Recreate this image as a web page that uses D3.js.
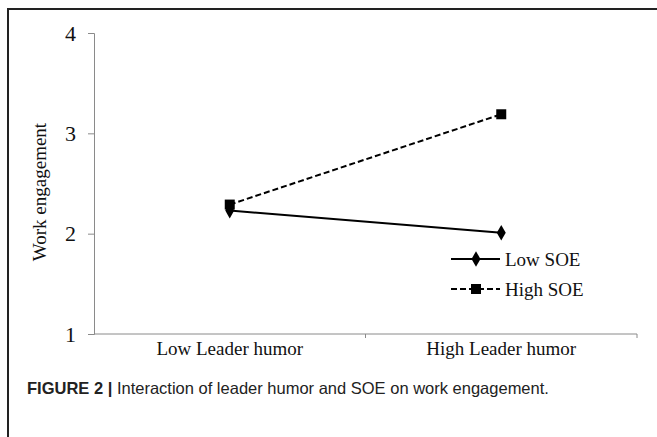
<!DOCTYPE html>
<html>
<head>
<meta charset="utf-8">
<script src="https://cdn.jsdelivr.net/npm/d3@7"></script>
<style>
  body { margin: 0; background: #fff; }
  svg { display: block; }
</style>
</head>
<body>
<script>
// data
var categories = ["Low Leader humor", "High Leader humor"];
var seriesNames = ["Low SOE", "High SOE"];
var lowSOE = [2.23, 2.01];
var highSOE = [2.29, 3.19];
var yTicks = [1, 2, 3, 4];
var caption = "Interaction of leader humor and SOE on work engagement.";

var width = 657, height = 437;
var serif = "Liberation Serif, Times New Roman, serif";

var svg = d3.select("body").append("svg")
    .attr("width", width)
    .attr("height", height);

// frame (top + left edge of the panel)
svg.append("path")
    .attr("d", "M8,440 V9 H660")
    .attr("fill", "none")
    .attr("stroke", "#222")
    .attr("stroke-width", 2);

var x = d3.scaleBand().domain(categories).range([94, 637]);
var y = d3.scaleLinear().domain([1, 4]).range([334, 33]);

var axisCol = "#8a8a8a";

// y axis
var yaxis = svg.append("g")
    .attr("transform", "translate(94,0)")
    .call(d3.axisLeft(y).tickValues(yTicks).tickSize(6).tickPadding(12).tickFormat(d3.format("d")));
yaxis.select(".domain").attr("stroke", axisCol);
yaxis.selectAll(".tick line").attr("stroke", axisCol);
yaxis.selectAll("text")
    .attr("font-family", serif)
    .attr("font-size", 22)
    .attr("fill", "#111");

// x axis, ticks at the band edges
var edges = x.domain().map(d => x(d)).concat([x.range()[1]]);
var xaxis = svg.append("g").attr("transform", "translate(0,334)");
xaxis.append("line")
    .attr("x1", x.range()[0]).attr("x2", x.range()[1])
    .attr("stroke", axisCol);
xaxis.selectAll(".edge").data(edges.slice(1)).enter().append("line")
    .attr("x1", d => d).attr("x2", d => d)
    .attr("y1", 0).attr("y2", 4)
    .attr("stroke", axisCol);
xaxis.selectAll(".lab").data(categories).enter().append("text")
    .attr("x", d => x(d) + x.bandwidth() / 2)
    .attr("y", 21)
    .attr("text-anchor", "middle")
    .attr("font-family", serif)
    .attr("font-size", 19)
    .attr("fill", "#111")
    .text(d => d);

// y title
svg.append("text")
    .attr("transform", "translate(46,192) rotate(-90)")
    .attr("text-anchor", "middle")
    .attr("font-family", serif)
    .attr("font-size", 19)
    .attr("fill", "#111")
    .text("Work engagement");

var series = [
  { name: seriesNames[0], values: lowSOE, dash: null, sym: d3.symbolDiamond, size: 70 },
  { name: seriesNames[1], values: highSOE, dash: "6,3", sym: d3.symbolSquare, size: 100 }
];

var line = d3.line()
    .x((d, i) => x(categories[i]) + x.bandwidth() / 2)
    .y(d => y(d));

series.forEach(s => {
  svg.append("path")
      .attr("d", line(s.values))
      .attr("fill", "none")
      .attr("stroke", "#000")
      .attr("stroke-width", 2)
      .attr("stroke-dasharray", s.dash);
});
// markers after lines so they sit on top
series.forEach(s => {
  svg.selectAll(null).data(s.values).enter().append("path")
      .attr("d", d3.symbol().type(s.sym).size(s.size))
      .attr("transform", (d, i) => "translate(" + (x(categories[i]) + x.bandwidth() / 2) + "," + y(d) + ")")
      .attr("fill", "#000");
});

// legend
var lg = svg.append("g").attr("transform", "translate(451,259)");
series.forEach((s, i) => {
  var g = lg.append("g").attr("transform", "translate(0," + (i * 30) + ")");
  g.append("line")
      .attr("x1", 0).attr("x2", 49)
      .attr("stroke", "#000").attr("stroke-width", 2)
      .attr("stroke-dasharray", s.dash);
  g.append("path")
      .attr("d", d3.symbol().type(s.sym).size(s.size))
      .attr("transform", "translate(25,0)");
  g.append("text")
      .attr("x", 54).attr("y", 6.5)
      .attr("font-family", serif)
      .attr("font-size", 19)
      .attr("fill", "#111")
      .text(s.name);
});

// caption
var cap = svg.append("text")
    .attr("x", 27).attr("y", 394)
    .attr("font-family", "Liberation Sans, Arial, sans-serif")
    .attr("font-size", 16.5)
    .attr("fill", "#222");
cap.append("tspan").attr("font-weight", "bold").text("FIGURE 2 | ");
cap.append("tspan").text(caption);
</script>
</body>
</html>
